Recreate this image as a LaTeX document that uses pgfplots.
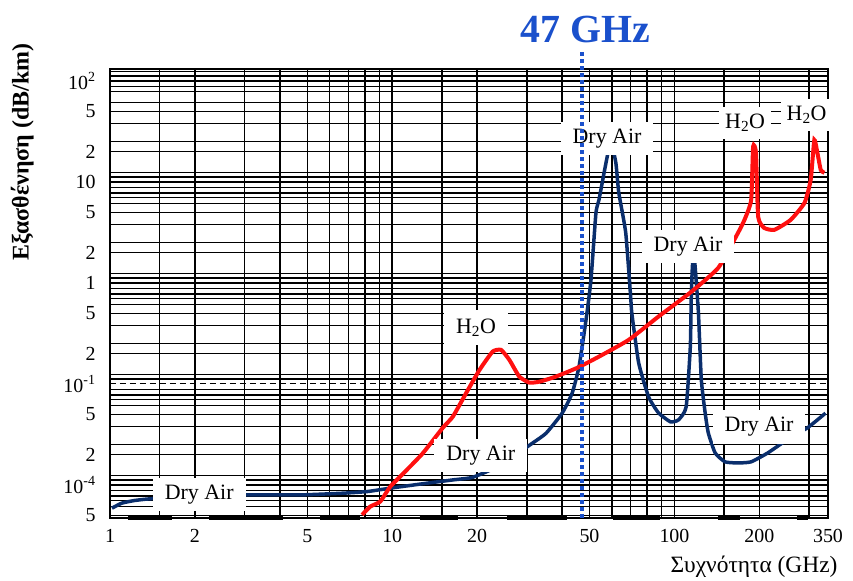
\documentclass[border=0pt]{standalone}
\usepackage{fontspec}
\setmainfont{Liberation Serif}
\usepackage{pgfplots}
\pgfplotsset{compat=1.18}
\definecolor{navy}{HTML}{0A2E6C}
\definecolor{dotblue}{HTML}{1A50CC}
\definecolor{hred}{HTML}{FF1010}
\begin{document}
\begin{tikzpicture}
\useasboundingbox (-110bp,-63bp) rectangle (743bp,518bp);
\begin{axis}[
  scale only axis, width=718bp, height=449bp,
  xmode=log, ymode=log,
  xmin=1, xmax=350, ymin=0.0047, ymax=131,
  clip=false,
  axis line style={black, line width=1.5bp},
  xtick={1,2,5,10,20,50,100,200,350},
  xticklabels={1,2,5,10,20,50,100,200,350},
  minor xtick={1.5,3,4,6,7,8,9,15,30,40,60,70,80,90,150,300},
  ytick={0.005,0.01,0.02,0.05,0.2,0.5,1,2,5,10,20,50,100},
  yticklabels={5,10\textsuperscript{-4},2,5,2,5,1,2,5,10,2,5,10\textsuperscript{2}},
  extra y ticks={0.1},
  extra y tick labels={10\textsuperscript{-1}},
  extra y tick style={grid=none},
  minor ytick={
   0.0061,0.007,0.0078,0.0088,
   0.0112,0.0124,0.025,0.038,0.061,0.07,0.078,0.088,
   0.112,0.124,0.25,0.38,0.61,0.7,0.78,0.88,
   1.12,1.24,2.5,3.8,6.1,7,7.8,8.8,
   11.2,12.4,25,38,61,78,88,
   112,124},
  grid=both,
  major grid style={black, line width=1.5bp},
  minor grid style={black, line width=1.5bp},
  major tick length=0pt, minor tick length=0pt,
  tick label style={font=\fontsize{20}{22}\selectfont},
  /pgf/number format/assume math mode=true,
  xticklabel style={yshift=-8bp},
  yticklabel style={xshift=-11bp},
  xlabel={Συχνότητα (GHz)},
  xlabel style={at={(axis description cs:0.897,-0.109)}, anchor=center, font=\fontsize{23.5}{26}\selectfont},
  ylabel={\textbf{Εξασθένηση (dB/km)}},
  ylabel style={at={(axis description cs:-0.122,0.815)}, anchor=center, font=\fontsize{24}{26}\selectfont},
]
% dashed reference line at 0.1
\addplot[black, line width=1bp, dash pattern=on 6bp off 4bp] coordinates {(1,0.1) (350,0.1)};
% thick bottom segments
\addplot[black, line width=3.5bp] coordinates {(1.16,0.0047) (1.66,0.0047)};
\addplot[black, line width=3.5bp] coordinates {(2.24,0.0047) (4.10,0.0047)};
\addplot[black, line width=3.5bp] coordinates {(5.55,0.0047) (7.69,0.0047)};
\addplot[black, line width=3.5bp] coordinates {(12.5,0.0047) (17.1,0.0047)};
\addplot[black, line width=3.5bp] coordinates {(25.5,0.0047) (41.6,0.0047)};
\addplot[black, line width=3.5bp] coordinates {(60.6,0.0047) (88.9,0.0047)};
\addplot[black, line width=3.5bp] coordinates {(143,0.0047) (171,0.0047)};
\addplot[black, line width=3.5bp] coordinates {(272,0.0047) (297,0.0047)};
% Dry air (blue)
\addplot[navy, line width=3.5bp, smooth, tension=0.3] coordinates {
 (1.016,0.00588) (1.10,0.00659) (1.22,0.0070) (1.38,0.00727) (2.0,0.0077) (3.16,0.00796)
 (4.74,0.00796) (6.72,0.00828) (8.16,0.00859) (9.84,0.00928) (13.3,0.0104) (16.4,0.0112)
 (19.3,0.0119) (24,0.0155) (31.4,0.0259) (35.1,0.0325) (40.0,0.0513) (43.4,0.081)
 (45.9,0.148) (48.6,0.43) (50.6,1.07) (52.7,4.93) (54.0,6.6) (57.2,15.4) (59.5,25)
 (62.0,15.4) (63.5,7.8) (67.2,3.13) (70.0,0.71) (70.6,0.505) (74.7,0.161) (81.0,0.0743)
 (87.8,0.0516) (96.8,0.0421) (103.3,0.044) (110,0.059) (113.8,0.232) (114.7,0.73)
 (115.7,1.41) (117,2.0) (118.6,1.35) (121.6,0.505) (124.5,0.11) (128.5,0.0513)
 (131.8,0.0327) (139.4,0.0207) (151.2,0.0169) (168,0.0165) (186.7,0.0169) (214,0.0207)
 (260,0.03) (296,0.0367) (343,0.0513)};
% H2O (red)
\addplot[hred, line width=4bp, smooth, tension=0.3] coordinates {
 (7.82,0.00505) (8.36,0.0061) (9.07,0.00684) (9.84,0.0096) (11.27,0.0141) (12.86,0.0207)
 (15.1,0.0367) (16.4,0.0474) (18.3,0.0815) (20.4,0.138) (22.7,0.209) (24.3,0.217)
 (26.0,0.173) (28.2,0.118) (30.6,0.103) (33.2,0.105) (38.0,0.118) (45.2,0.144)
 (54.0,0.186) (68.9,0.273) (87.8,0.464) (115,0.82) (143,1.41) (168,3.13) (177,4.2)
 (187,6.6) (190,22.4) (194.5,19.4) (198,4.5) (208,3.5) (226,3.35) (258,4.2) (289,6.2)
 (304,10.5) (313,26) (321,19.4) (330,13.1) (340,12.3)};
% labels
\tikzset{lbl/.style={fill=white, inner xsep=12bp, inner ysep=7bp, font=\fontsize{22}{24}\selectfont}}
\node[lbl] at (axis cs:2.07,0.0080) {Dry Air};
\node[lbl] at (axis cs:20.6,0.0194) {Dry Air};
\node[lbl, inner ysep=9bp] at (axis cs:19.8,0.36) {H\textsubscript{2}O};
\node[lbl] at (axis cs:57.7,27.1) {Dry Air};
\node[lbl] at (axis cs:111.7,2.29) {Dry Air};
\node[lbl, inner xsep=6bp] at (axis cs:178,38.1) {H\textsubscript{2}O};
\node[lbl, inner xsep=6bp] at (axis cs:294,46) {H\textsubscript{2}O};
\node[lbl] at (axis cs:199.5,0.0375) {Dry Air};
% 47 GHz marker
\addplot[dotblue, line width=4.5bp, dash pattern=on 4bp off 3bp] coordinates {(47,0.0047) (47,194)};
\node[dotblue, font=\fontsize{40}{44}\selectfont\bfseries] at (axis cs:48.4,320) {47 GHz};
\end{axis}
\end{tikzpicture}
\end{document}
